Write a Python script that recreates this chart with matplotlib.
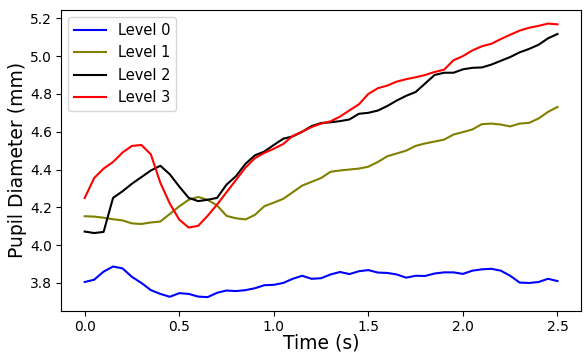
import numpy as np
import matplotlib
matplotlib.use("Agg")
import matplotlib.pyplot as plt

# time axis (s), sampled every 0.05 s
time_s = np.round(np.arange(0, 2.501, 0.05), 2)

level_0 = [3.805, 3.817, 3.86, 3.887, 3.877, 3.832, 3.80, 3.762, 3.742, 3.727,
           3.746, 3.742, 3.728, 3.725, 3.748, 3.76, 3.757, 3.762, 3.772, 3.788,
           3.79, 3.80, 3.822, 3.838, 3.822, 3.825, 3.845, 3.858, 3.847, 3.862,
           3.868, 3.855, 3.853, 3.845, 3.828, 3.838, 3.837, 3.85, 3.856, 3.856,
           3.848, 3.865, 3.872, 3.875, 3.865, 3.838, 3.802, 3.80, 3.805, 3.822,
           3.81]

level_1 = [4.153, 4.151, 4.145, 4.137, 4.131, 4.115, 4.112, 4.12, 4.125, 4.165,
           4.205, 4.24, 4.255, 4.24, 4.21, 4.155, 4.142, 4.136, 4.16, 4.206,
           4.225, 4.245, 4.28, 4.315, 4.335, 4.355, 4.388, 4.395, 4.40, 4.405,
           4.415, 4.44, 4.47, 4.485, 4.50, 4.525, 4.538, 4.548, 4.558, 4.585,
           4.598, 4.612, 4.64, 4.643, 4.638, 4.628, 4.643, 4.647, 4.67, 4.705,
           4.731]

level_2 = [4.072, 4.064, 4.07, 4.25, 4.285, 4.325, 4.36, 4.395, 4.42, 4.375,
           4.31, 4.25, 4.233, 4.24, 4.25, 4.32, 4.365, 4.43, 4.475, 4.495,
           4.53, 4.563, 4.575, 4.60, 4.63, 4.646, 4.65, 4.656, 4.665, 4.695,
           4.70, 4.712, 4.736, 4.765, 4.79, 4.81, 4.855, 4.90, 4.912, 4.912,
           4.93, 4.938, 4.94, 4.955, 4.975, 4.995, 5.02, 5.038, 5.06, 5.094,
           5.117]

level_3 = [4.249, 4.355, 4.405, 4.44, 4.49, 4.525, 4.53, 4.48, 4.33, 4.22,
           4.135, 4.093, 4.102, 4.155, 4.215, 4.28, 4.345, 4.41, 4.46, 4.488,
           4.51, 4.535, 4.578, 4.60, 4.625, 4.643, 4.655, 4.68, 4.713, 4.745,
           4.80, 4.83, 4.844, 4.865, 4.878, 4.888, 4.90, 4.916, 4.928, 4.978,
           5.0, 5.03, 5.052, 5.065, 5.09, 5.113, 5.135, 5.15, 5.16, 5.172,
           5.168]

labels = ["Level 0", "Level 1", "Level 2", "Level 3"]
colors = ["blue", "olive", "black", "red"]

fig = plt.figure(figsize=(5.87, 3.54), dpi=100)
ax = fig.add_axes([0.104, 0.122, 0.886, 0.85])

for series, lab, col in zip([level_0, level_1, level_2, level_3], labels, colors):
    ax.plot(time_s, series, color=col, linewidth=1.5, label=lab)

ax.set_xlabel("Time (s)", fontsize=13.5, labelpad=0)
ax.set_ylabel("Pupil Diameter (mm)", fontsize=13.5, labelpad=2)
ax.set_xticks([0.0, 0.5, 1.0, 1.5, 2.0, 2.5])
ax.set_yticks([3.8, 4.0, 4.2, 4.4, 4.6, 4.8, 5.0, 5.2])
ax.tick_params(labelsize=10, pad=3)
ax.legend(loc="upper left", fontsize=10.5, handlelength=2.2)

plt.savefig("out.png", dpi=100)
